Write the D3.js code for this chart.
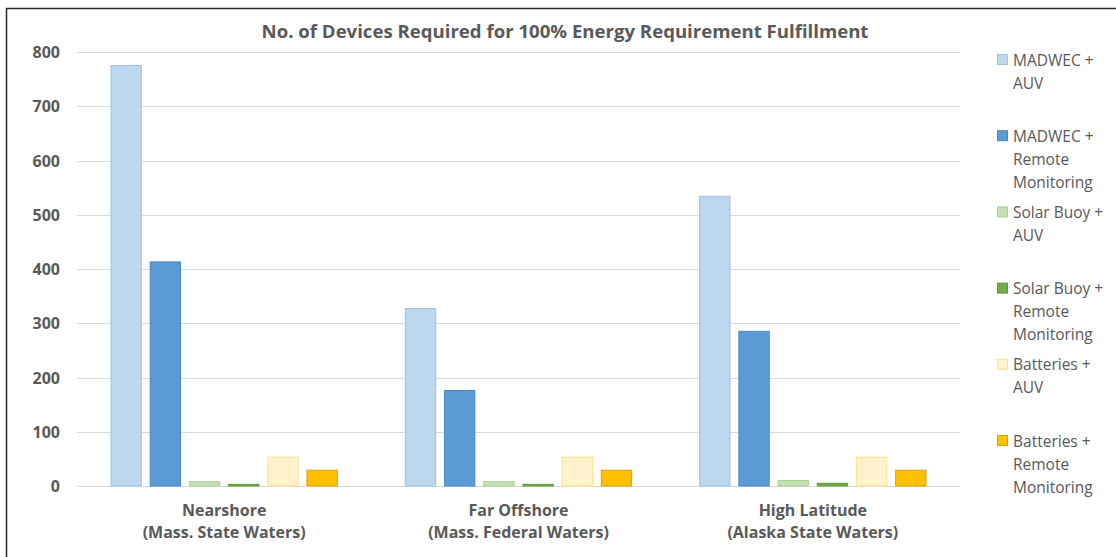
<!DOCTYPE html>
<html>
<head>
<meta charset="utf-8">
<script src="https://cdn.jsdelivr.net/npm/d3@7"></script>
<style>
  html, body { margin: 0; padding: 0; background: #fff; }
  svg { display: block; }
  text { font-family: "Open Sans", Lato, sans-serif; }
</style>
</head>
<body>
<svg id="chart" width="1116" height="557"></svg>
<script>
// Deployment sites (x-axis categories, each label on two lines)
const categories = ["Nearshore", "Far Offshore", "High Latitude"];
const categorySubtitles = ["(Mass. State Waters)", "(Mass. Federal Waters)", "(Alaska State Waters)"];

// Power-system configurations (legend order)
const seriesNames = [
  "MADWEC + AUV",
  "MADWEC + Remote Monitoring",
  "Solar Buoy + AUV",
  "Solar Buoy + Remote Monitoring",
  "Batteries + AUV",
  "Batteries + Remote Monitoring"
];
const legendLines = [
  ["MADWEC +", "AUV"],
  ["MADWEC +", "Remote", "Monitoring"],
  ["Solar Buoy +", "AUV"],
  ["Solar Buoy +", "Remote", "Monitoring"],
  ["Batteries +", "AUV"],
  ["Batteries +", "Remote", "Monitoring"]
];

// Number of devices, one array per series: [Nearshore, Far Offshore, High Latitude]
const madwecAuv      = [776, 328, 535];
const madwecRemote   = [414, 177, 286];
const solarAuv       = [9, 9, 11];
const solarRemote    = [4, 4, 6];
const batteriesAuv   = [54, 54, 54];
const batteriesRemote = [30, 30, 30];

const yTicks = [0, 100, 200, 300, 400, 500, 600, 700, 800];

const seriesValues = [madwecAuv, madwecRemote, solarAuv, solarRemote, batteriesAuv, batteriesRemote];
const fills   = ["#BDD7EE", "#5B9BD5", "#C5E0B4", "#70AD47", "#FFF2CC", "#FFC000"];
const strokes = ["#9DC3E6", "#4A89C8", "#A9D18E", "#5E9A38", "#FFE28A", "#D9A400"];

const svg = d3.select("#chart");
const textColor = "#595959";

// Outer frame
svg.append("rect")
  .attr("x", 6.5).attr("y", 8.5)
  .attr("width", 1120).attr("height", 560)
  .attr("fill", "none").attr("stroke", "#262626").attr("stroke-width", 1.5);

const plot = { left: 77, right: 960, top: 52, bottom: 486 };

const y = d3.scaleLinear().domain([0, 800]).range([plot.bottom, plot.top]);
const x0 = d3.scaleBand().domain(categories).range([plot.left, plot.right]).padding(0);
const groupPad = 33.5;
const x1 = d3.scaleBand().domain(seriesNames)
  .range([groupPad, x0.bandwidth() - groupPad])
  .paddingInner(0.2).paddingOuter(0);

// Gridlines
svg.append("g")
  .selectAll("line")
  .data(yTicks)
  .join("line")
  .attr("x1", plot.left).attr("x2", plot.right)
  .attr("y1", d => Math.round(y(d)) + 0.5).attr("y2", d => Math.round(y(d)) + 0.5)
  .attr("stroke", "#D9D9D9").attr("stroke-width", 1.2);

// Y axis labels
const yAxis = d3.axisLeft(y).tickValues(yTicks).tickSize(0).tickPadding(0);
const yg = svg.append("g").attr("transform", `translate(${60},0)`).call(yAxis);
yg.select(".domain").remove();
yg.selectAll("text")
  .attr("fill", textColor)
  .attr("font-size", 16)
  .attr("font-weight", "bold")
  .attr("font-family", "'Open Sans', sans-serif")
  .attr("dy", "0.35em");

// Bars
const groups = svg.append("g")
  .selectAll("g")
  .data(seriesNames)
  .join("g")
  .attr("fill", (d, i) => fills[i])
  .attr("stroke", (d, i) => strokes[i]);

groups.selectAll("rect")
  .data((s, si) => categories.map((c, ci) => ({ series: s, cat: c, value: seriesValues[si][ci] })))
  .join("rect")
  .attr("x", d => x0(d.cat) + x1(d.series) + 0.5)
  .attr("y", d => y(d.value) + 0.5)
  .attr("width", x1.bandwidth() - 1)
  .attr("height", d => plot.bottom - y(d.value) - 0.5)
  .attr("stroke-width", 1);

// Category labels
const xg = svg.append("g");
categories.forEach((c, i) => {
  const cx = x0(c) + x0.bandwidth() / 2;
  const t = xg.append("text")
    .attr("x", cx).attr("text-anchor", "middle")
    .attr("fill", textColor).attr("font-size", 16).attr("font-weight", "bold");
  t.append("tspan").attr("x", cx).attr("y", 516).text(c);
  t.append("tspan").attr("x", cx).attr("y", 538).text(categorySubtitles[i]);
});

// Title
svg.append("text")
  .attr("x", 565).attr("y", 38)
  .attr("text-anchor", "middle")
  .attr("fill", textColor)
  .attr("font-size", 18.6)
  .attr("font-weight", "bold")
  .text("No. of Devices Required for 100% Energy Requirement Fulfillment");

// Legend
const legend = svg.append("g");
legendLines.forEach((lines, i) => {
  const top = 60 + i * 76.2;
  legend.append("rect")
    .attr("x", 997.5).attr("y", top - 5.5)
    .attr("width", 10).attr("height", 10)
    .attr("fill", fills[i]).attr("stroke", strokes[i]);
  const t = legend.append("text")
    .attr("fill", textColor).attr("font-size", 15.5);
  lines.forEach((ln, j) => {
    t.append("tspan").attr("x", 1013).attr("y", top + 5.5 + j * 23).text(ln);
  });
});
</script>
</body>
</html>
